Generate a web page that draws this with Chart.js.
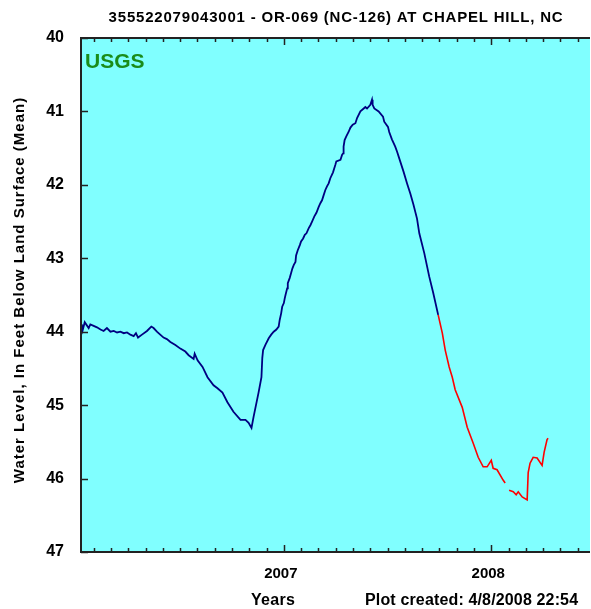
<!DOCTYPE html>
<html lang="en">
<head>
  <meta charset="UTF-8">
  <title>355522079043001 - OR-069 (NC-126) AT CHAPEL HILL, NC</title>
  <script src="https://cdn.jsdelivr.net/npm/chart.js"></script>
</head>
<style>
  html, body { margin: 0; padding: 0; background: #fff; }
  .chart-container { width: 591px; height: 609px; }
</style>
<body>
  <div class="chart-container">
    <canvas id="chartCanvas" width="591" height="609"></canvas>
  </div>

  <script>
    // approved data (decimal years, feet below land surface)
    const blueYears = [
      2006.026, 2006.030, 2006.040, 2006.059, 2006.067, 2006.083, 2006.099, 2006.116, 2006.131, 2006.147,
      2006.164, 2006.180, 2006.196, 2006.212, 2006.228, 2006.244, 2006.260, 2006.276, 2006.287, 2006.297,
      2006.316, 2006.340, 2006.361, 2006.372, 2006.388, 2006.404, 2006.420, 2006.436, 2006.453, 2006.477,
      2006.501, 2006.525, 2006.541, 2006.565, 2006.570, 2006.584, 2006.608, 2006.632, 2006.661, 2006.680,
      2006.704, 2006.728, 2006.757, 2006.791, 2006.815, 2006.830, 2006.844, 2006.854, 2006.878, 2006.892,
      2006.896, 2006.900, 2006.911, 2006.927, 2006.939, 2006.951, 2006.964, 2006.975, 2006.980, 2006.987,
      2006.992, 2007.000, 2007.004, 2007.008, 2007.016, 2007.019, 2007.028, 2007.035, 2007.041, 2007.048,
      2007.056, 2007.059, 2007.067, 2007.077, 2007.083, 2007.093, 2007.101, 2007.109, 2007.120, 2007.128,
      2007.136, 2007.147, 2007.157, 2007.168, 2007.176, 2007.184, 2007.192, 2007.200, 2007.208, 2007.216,
      2007.224, 2007.237, 2007.248, 2007.253, 2007.273, 2007.281, 2007.286, 2007.288, 2007.293, 2007.301,
      2007.312, 2007.321, 2007.332, 2007.345, 2007.353, 2007.369, 2007.385, 2007.393, 2007.401, 2007.417,
      2007.425, 2007.428, 2007.436, 2007.457, 2007.478, 2007.484, 2007.502, 2007.508, 2007.521, 2007.537,
      2007.546, 2007.561, 2007.577, 2007.594, 2007.610, 2007.625, 2007.642, 2007.653, 2007.677, 2007.701,
      2007.720, 2007.744
    ];
    const blueLevels = [
      43.90, 43.98, 43.87, 43.95, 43.90, 43.92, 43.94, 43.97, 43.99, 43.95,
      44.00, 43.99, 44.01, 44.00, 44.02, 44.01, 44.04, 44.06, 44.02, 44.08,
      44.04, 43.99, 43.93, 43.95, 44.00, 44.04, 44.08, 44.10, 44.14, 44.18,
      44.23, 44.27, 44.32, 44.37, 44.30, 44.39, 44.48, 44.62, 44.73, 44.77,
      44.83, 44.96, 45.09, 45.20, 45.20, 45.24, 45.31, 45.16, 44.83, 44.62,
      44.36, 44.25, 44.18, 44.09, 44.04, 44.00, 43.97, 43.93, 43.84, 43.75,
      43.66, 43.61, 43.55, 43.50, 43.41, 43.34, 43.27, 43.20, 43.14, 43.09,
      43.05, 42.96, 42.89, 42.82, 42.77, 42.73, 42.68, 42.66, 42.59, 42.55,
      42.50, 42.43, 42.38, 42.30, 42.25, 42.21, 42.14, 42.07, 42.02, 41.98,
      41.91, 41.83, 41.73, 41.68, 41.66, 41.59, 41.57, 41.48, 41.39, 41.34,
      41.28, 41.22, 41.18, 41.16, 41.09, 41.00, 40.96, 40.94, 40.96, 40.91,
      40.84, 40.91, 40.96, 41.00, 41.07, 41.14, 41.21, 41.28, 41.38, 41.48,
      41.55, 41.68, 41.82, 41.98, 42.12, 42.27, 42.46, 42.66, 42.93, 43.25,
      43.47, 43.77
    ];
    // provisional data, null = missing record
    const redYears = [
      2007.744, 2007.764, 2007.778, 2007.797, 2007.812, 2007.826, 2007.860, 2007.884, 2007.913, 2007.937,
      2007.961, 2007.980, 2008.000, 2008.009, 2008.028, 2008.057, 2008.067, 2008.076, 2008.086, 2008.106,
      2008.120, 2008.130, 2008.149, 2008.173, 2008.178, 2008.187, 2008.202, 2008.221, 2008.245, 2008.255,
      2008.269, 2008.274
    ];
    const redLevels = [
      43.77, 44.02, 44.25, 44.48, 44.62, 44.79, 45.03, 45.30, 45.52, 45.71,
      45.84, 45.84, 45.75, 45.86, 45.88, 46.02, 46.06, null, 46.16, 46.18,
      46.22, 46.18, 46.25, 46.29, 45.92, 45.79, 45.71, 45.72, 45.82, 45.64,
      45.47, 45.45
    ];
    const yearTicks = [2007, 2008];
    const levelTicks = [40, 41, 42, 43, 44, 45, 46, 47];
    const xMin = 2006.022;
    const xMax = 2008.476;

    const toPoints = (xs, ys) => xs.map((x, i) => ({ x: x, y: ys[i] }));

    const fontFamily = '"Liberation Sans", Arial, sans-serif';
    const axisColor = '#222';

    // background, frame, inward tick marks and the loose texts
    const framePlugin = {
      id: 'framePlugin',
      beforeDatasetsDraw(chart) {
        const a = chart.chartArea;
        const c = chart.ctx;
        c.save();
        c.fillStyle = '#80ffff';
        c.fillRect(a.left, a.top, a.right - a.left, a.bottom - a.top);
        c.restore();
      },
      afterDatasetsDraw(chart) {
        const a = chart.chartArea;
        const c = chart.ctx;
        const xs = chart.scales.x;
        const ys = chart.scales.y;
        c.save();
        c.strokeStyle = axisColor;
        c.lineWidth = 1.5;
        c.beginPath();
        // monthly ticks top and bottom
        for (let m = 0; m <= 36; m++) {
          const v = 2006 + m / 12;
          if (v < xMin || v > xMax) continue;
          const px = Math.round(xs.getPixelForValue(v)) + 0.5;
          const len = (m % 12 === 0) ? 7 : 4;
          c.moveTo(px, a.bottom);
          c.lineTo(px, a.bottom - len);
          c.moveTo(px, a.top);
          c.lineTo(px, a.top + len);
        }
        levelTicks.forEach(v => {
          const py = Math.round(ys.getPixelForValue(v)) + 0.5;
          c.moveTo(a.left, py);
          c.lineTo(a.left + 7, py);
        });
        c.stroke();
        c.lineWidth = 2;
        c.beginPath();
        c.moveTo(a.right, a.top);
        c.lineTo(a.left, a.top);
        c.lineTo(a.left, a.bottom);
        c.lineTo(a.right, a.bottom);
        c.stroke();
        c.restore();
      },
      afterDraw(chart) {
        const c = chart.ctx;
        c.save();
        c.fillStyle = '#000';
        c.textBaseline = 'middle';
        c.textAlign = 'center';
        c.letterSpacing = '0.8px';
        c.font = 'bold 15px ' + fontFamily;
        c.fillText('355522079043001 - OR-069 (NC-126) AT CHAPEL HILL, NC', 336, 18);
        c.letterSpacing = '0.3px';
        c.font = 'bold 16px ' + fontFamily;
        c.fillText('Years', 273, 601);
        c.textAlign = 'left';
        c.letterSpacing = '0.15px';
        c.fillText('Plot created: 4/8/2008 22:54', 365, 601);
        // y axis title
        c.save();
        c.translate(20, 290);
        c.rotate(-Math.PI / 2);
        c.textAlign = 'center';
        c.letterSpacing = '1px';
        c.font = 'bold 15px ' + fontFamily;
        c.fillText('Water Level, In Feet Below Land Surface (Mean)', 0, 0);
        c.restore();
        c.letterSpacing = '0px';
        c.textAlign = 'left';
        c.fillStyle = '#1a8c1a';
        c.font = 'bold 21px ' + fontFamily;
        c.fillText('USGS', 85, 62);
        c.restore();
      }
    };

    const ctx = document.getElementById('chartCanvas').getContext('2d');
    const chart = new Chart(ctx, {
      type: 'line',
      data: {
        datasets: [{
          label: 'Approved',
          data: toPoints(blueYears, blueLevels),
          borderColor: '#000080',
          borderWidth: 1.8,
          pointRadius: 0,
          fill: false
        }, {
          label: 'Provisional',
          data: toPoints(redYears, redLevels),
          borderColor: '#ff0000',
          borderWidth: 1.6,
          pointRadius: 0,
          spanGaps: false,
          fill: false
        }]
      },
      options: {
        responsive: false,
        animation: false,
        layout: {
          padding: { top: 38, right: 1, left: 0, bottom: 0 }
        },
        plugins: {
          legend: { display: false },
          tooltip: { enabled: false }
        },
        scales: {
          x: {
            type: 'linear',
            min: xMin,
            max: xMax,
            afterBuildTicks(scale) {
              scale.ticks = yearTicks.map(v => ({ value: v }));
            },
            afterFit(scale) {
              scale.height = 57;
            },
            grid: { display: false, drawTicks: false },
            border: { display: false },
            ticks: {
              padding: 13,
              labelOffset: -3,
              color: '#000',
              font: { family: fontFamily, size: 15, weight: 'bold' },
              maxRotation: 0,
              callback: v => String(v)
            }
          },
          y: {
            type: 'linear',
            reverse: true,
            min: 40,
            max: 47,
            afterBuildTicks(scale) {
              scale.ticks = levelTicks.map(v => ({ value: v }));
            },
            afterFit(scale) {
              scale.width = 81;
            },
            grid: { display: false, drawTicks: false },
            border: { display: false },
            ticks: {
              padding: 17,
              color: '#000',
              font: { family: fontFamily, size: 16, weight: 'bold' },
              callback: v => String(v)
            }
          }
        }
      },
      plugins: [framePlugin]
    });
  </script>
</body>
</html>
